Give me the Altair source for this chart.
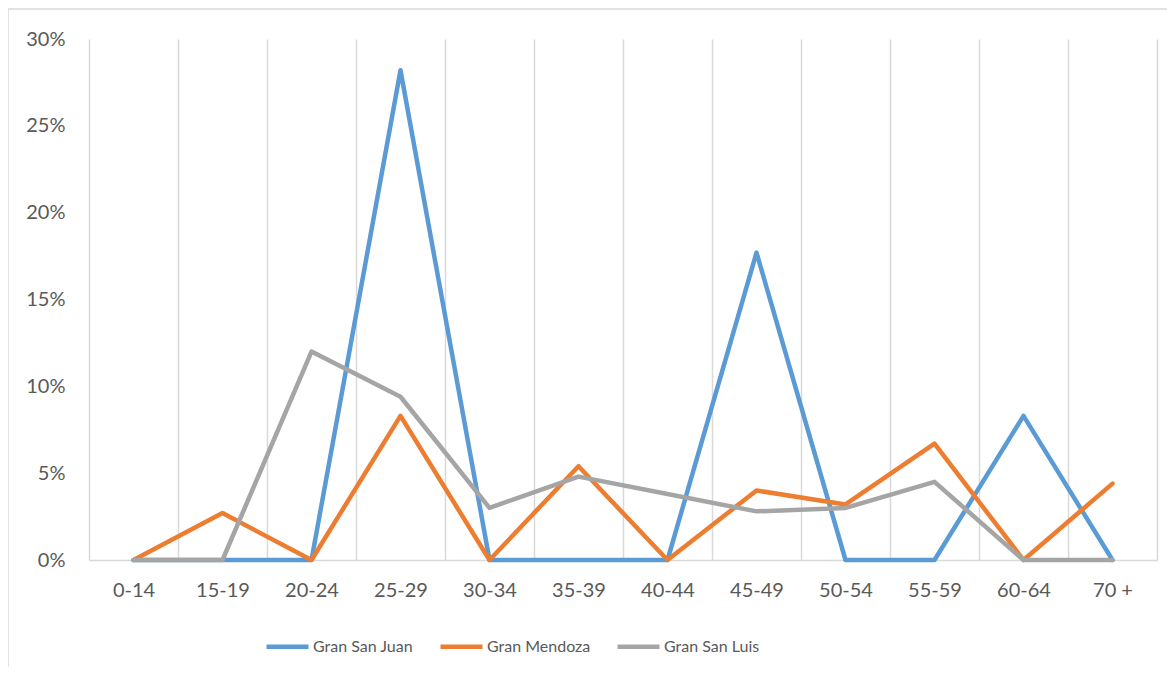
import altair as alt
import pandas as pd

categories = ["0-14", "15-19", "20-24", "25-29", "30-34", "35-39",
              "40-44", "45-49", "50-54", "55-59", "60-64", "70 +"]
series_names = ["Gran San Juan", "Gran Mendoza", "Gran San Luis"]
san_juan = [0.0, 0.0, 0.0, 28.2, 0.0, 0.0, 0.0, 17.7, 0.0, 0.0, 8.3, 0.0]
mendoza = [0.0, 2.7, 0.0, 8.3, 0.0, 5.4, 0.0, 4.0, 3.2, 6.7, 0.0, 4.4]
san_luis = [0.0, 0.0, 12.0, 9.4, 3.0, 4.8, 3.8, 2.8, 3.0, 4.5, 0.0, 0.0]
colors = ["#5B9BD5", "#ED7D31", "#A5A5A5"]

rows = []
for name, vals in zip(series_names, [san_juan, mendoza, san_luis]):
    for i, (c, v) in enumerate(zip(categories, vals)):
        rows.append({"grupo": c, "serie": name, "valor": v / 100.0, "orden": i})
df = pd.DataFrame(rows)

FONT = "Lato"
TXT = "#595959"
GRID = "#D9D9D9"
W, H = 1068, 521

lines = alt.Chart(df).mark_line(strokeWidth=4.5, strokeCap="round", strokeJoin="round").encode(
    x=alt.X("grupo:O", sort=categories, bandPosition=0.5,
            scale=alt.Scale(type="band", paddingInner=0, paddingOuter=0),
            axis=alt.Axis(title=None, grid=True, tickBand="extent", ticks=False,
                          gridColor=GRID, gridWidth=1.5, domainColor=GRID, domainWidth=1.5,
                          labelFont=FONT, labelFontSize=20, labelColor=TXT,
                          labelPadding=20, labelAngle=0)),
    y=alt.Y("valor:Q", scale=alt.Scale(domain=[0, 0.30], nice=False),
            axis=alt.Axis(title=None, format=".0%", values=[0, 0.05, 0.10, 0.15, 0.20, 0.25, 0.30],
                          grid=False, domain=False, ticks=False,
                          labelFont=FONT, labelFontSize=20, labelColor=TXT, labelPadding=24)),
    color=alt.Color("serie:N", sort=series_names,
                    scale=alt.Scale(domain=series_names, range=colors),
                    legend=alt.Legend(title=None, orient="none", direction="horizontal",
                                      legendX=175, legendY=584,
                                      symbolType="stroke", symbolSize=1764, symbolStrokeWidth=4.5,
                                      labelFont=FONT, labelFontSize=16, labelColor=TXT,
                                      labelOffset=2, columnPadding=17)),
    order="orden:Q",
)

border = alt.Chart(pd.DataFrame({"k": [0]})).mark_rect(
    fill=None, stroke=GRID, strokeWidth=1.5
).encode(
    x=alt.value(-81), x2=alt.value(1200), y=alt.value(-30), y2=alt.value(700)
)

chart = alt.layer(border, lines).properties(
    width=W, height=H,
    autosize=alt.AutoSizeParams(type="none"),
    padding={"left": 81, "top": 31, "right": 10, "bottom": 107},
).configure_view(stroke=None)

chart.save("out.html", embed_options={"renderer": "svg", "actions": False})
